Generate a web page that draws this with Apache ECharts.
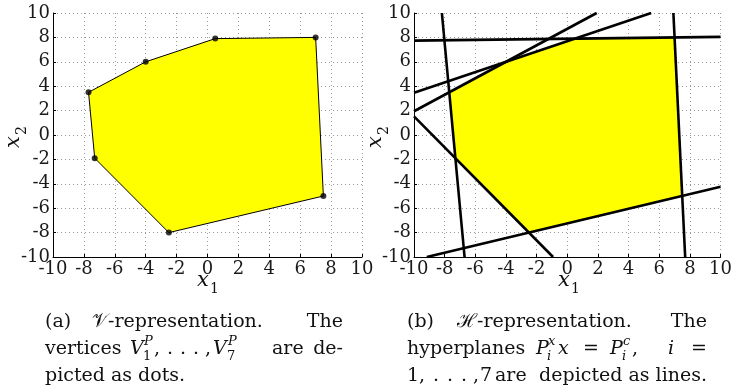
<!DOCTYPE html>
<html><head><meta charset="utf-8">
<script src="https://cdn.jsdelivr.net/npm/echarts@6/dist/echarts.min.js"></script>
<style>html,body{margin:0;padding:0;background:#fff}#c{width:735px;height:391px}</style>
</head><body><div id="c"></div>
<script>
// ---- data ----
const vertexX = [-7.7, -4, 0.5, 7, 7.5, -2.5, -7.3];
const vertexY = [3.5, 6, 7.9, 8, -5, -8, -1.9];
const axisMin = -10;
const axisMax = 10;
const tickStep = 2;

const vertices = vertexX.map((x, i) => [x, vertexY[i]]);

// infinite line through two vertices, clipped to axis box (Liang-Barsky)
function clipLine(p, q) {
  const dx = q[0] - p[0], dy = q[1] - p[1];
  let t0 = -Infinity, t1 = Infinity;
  const pairs = [[-dx, p[0] - axisMin], [dx, axisMax - p[0]], [-dy, p[1] - axisMin], [dy, axisMax - p[1]]];
  for (const [pp, qq] of pairs) {
    if (pp === 0) continue;
    const r = qq / pp;
    if (pp < 0) t0 = Math.max(t0, r); else t1 = Math.min(t1, r);
  }
  return [[p[0] + t0 * dx, p[1] + t0 * dy], [p[0] + t1 * dx, p[1] + t1 * dy]];
}

const TICKF = '"DejaVu Serif", serif';
const CAPF = '"DejaVu Serif", serif';

function makeAxis(gridIndex, isY) {
  return {
    type: 'value', gridIndex, min: axisMin, max: axisMax, interval: tickStep,
    axisLine: { show: true, onZero: false, lineStyle: { color: '#000', width: 1 } },
    axisTick: { show: true, inside: true, length: 3, lineStyle: { color: '#000' } },
    axisLabel: { fontFamily: TICKF, fontSize: 18, color: '#1a1a1a', margin: 3,
      showMinLabel: true, showMaxLabel: true, hideOverlap: false,
      formatter: v => String(v) },
    splitLine: { show: true, showMinLine: true, showMaxLine: true,
      lineStyle: { type: [1, 3], color: '#9a9a9a', width: 1 } }
  };
}

function polygonSeries(gridIndex, stroke) {
  return {
    type: 'custom', xAxisIndex: gridIndex, yAxisIndex: gridIndex, data: vertices, z: 2,
    encode: { x: 0, y: 1 }, clip: true,
    renderItem: (params, api) => {
      if (params.dataIndex !== 0) return null;
      const pts = vertices.map(v => api.coord(v));
      return { type: 'polygon', shape: { points: pts },
        style: { fill: '#ffff00', stroke: stroke ? '#000' : null, lineWidth: stroke ? 1 : 0 } };
    }
  };
}

const series = [
  polygonSeries(0, true),
  { type: 'scatter', xAxisIndex: 0, yAxisIndex: 0, data: vertices, symbol: 'circle', symbolSize: 6,
    itemStyle: { color: '#000' }, z: 5, silent: true },
  polygonSeries(1, false)
];
vertices.forEach((v, i) => {
  const w = vertices[(i + 1) % vertices.length];
  series.push({ type: 'line', xAxisIndex: 1, yAxisIndex: 1, data: clipLine(v, w), symbol: 'none',
    lineStyle: { color: '#000', width: 2.6 }, z: 6, silent: true, animation: false });
});

// ---- text helpers ----
function T(s, x, B, o = {}) {
  const fs = o.fs || 19;
  return { type: 'text', x, y: B - 0.36 * fs, silent: true,
    style: { text: s, fill: '#111', align: o.align || 'left', verticalAlign: 'middle',
      font: (o.it ? 'italic ' : '') + fs + 'px ' + (o.ff || CAPF) } };
}
function axisTitle(cx, cy, sub, rotated) {
  const kids = [
    { type: 'text', x: -10, y: 0, style: { text: 'x', font: 'italic 21px ' + CAPF, fill: '#111', align: 'left', verticalAlign: 'bottom' } },
    { type: 'text', x: 3, y: 5, style: { text: sub, font: '14px ' + CAPF, fill: '#111', align: 'left', verticalAlign: 'bottom' } }
  ];
  return { type: 'group', x: cx, y: cy, rotation: rotated ? Math.PI / 2 : 0, children: kids, silent: true };
}

const L1 = 329, L2 = 356, L3 = 383;
const SUP = 10, SUB = 5;
const graphics = [
  axisTitle(207, 291, '1', false),
  axisTitle(568, 291, '1', false),
  axisTitle(24, 138, '2', true),
  axisTitle(386, 138, '2', true),
  // caption (a)
  T('(a)', 45, L1),
  T('\u{1D4B1}-representation.', 92, L1),
  T('The', 343, L1, { align: 'right' }),
  T('vertices', 45, L2),
  T('V', 130, L2, { it: true }),
  T('P', 144, L2 - SUP, { it: true, fs: 13 }),
  T('1', 143, L2 + SUB, { fs: 13 }),
  T(',', 154, L2), T('.', 167, L2), T('.', 180, L2), T('.', 193, L2), T(',', 205, L2),
  T('V', 213, L2, { it: true }),
  T('P', 228, L2 - SUP, { it: true, fs: 13 }),
  T('7', 227, L2 + SUB, { fs: 13 }),
  T('are', 272, L2),
  T('de-', 343, L2, { align: 'right' }),
  T('picted as dots.', 45, L3),
  // caption (b)
  T('(b)', 407, L1),
  T('\u210B-representation.', 457, L1),
  T('The', 707, L1, { align: 'right' }),
  T('hyperplanes', 407, L2),
  T('P', 536, L2, { it: true }),
  T('x', 548, L2 - SUP, { it: true, fs: 13 }),
  T('i', 547, L2 + SUB, { it: true, fs: 13 }),
  T('x', 558, L2, { it: true }),
  T('=', 583, L2),
  T('P', 610, L2, { it: true }),
  T('c', 623, L2 - SUP, { it: true, fs: 13 }),
  T('i', 622, L2 + SUB, { it: true, fs: 13 }),
  T(',', 632, L2),
  T('i', 668, L2, { it: true }),
  T('=', 707, L2, { align: 'right' }),
  T('1,', 407, L3), T('.', 433, L3), T('.', 447, L3), T('.', 461, L3), T(',', 473, L3), T('7', 480, L3),
  T('are', 495, L3),
  T('depicted as lines.', 707, L3, { align: 'right' })
];

const chart = echarts.init(document.getElementById('c'), null, { renderer: 'canvas' });
chart.setOption({
  animation: false,
  backgroundColor: '#fff',
  grid: [
    { left: 53, top: 13, width: 309, height: 244, containLabel: false },
    { left: 414, top: 13, width: 310, height: 244, containLabel: false }
  ],
  xAxis: [makeAxis(0, false), makeAxis(1, false)],
  yAxis: [makeAxis(0, true), makeAxis(1, true)],
  series,
  graphic: graphics
});
</script>
</body></html>
